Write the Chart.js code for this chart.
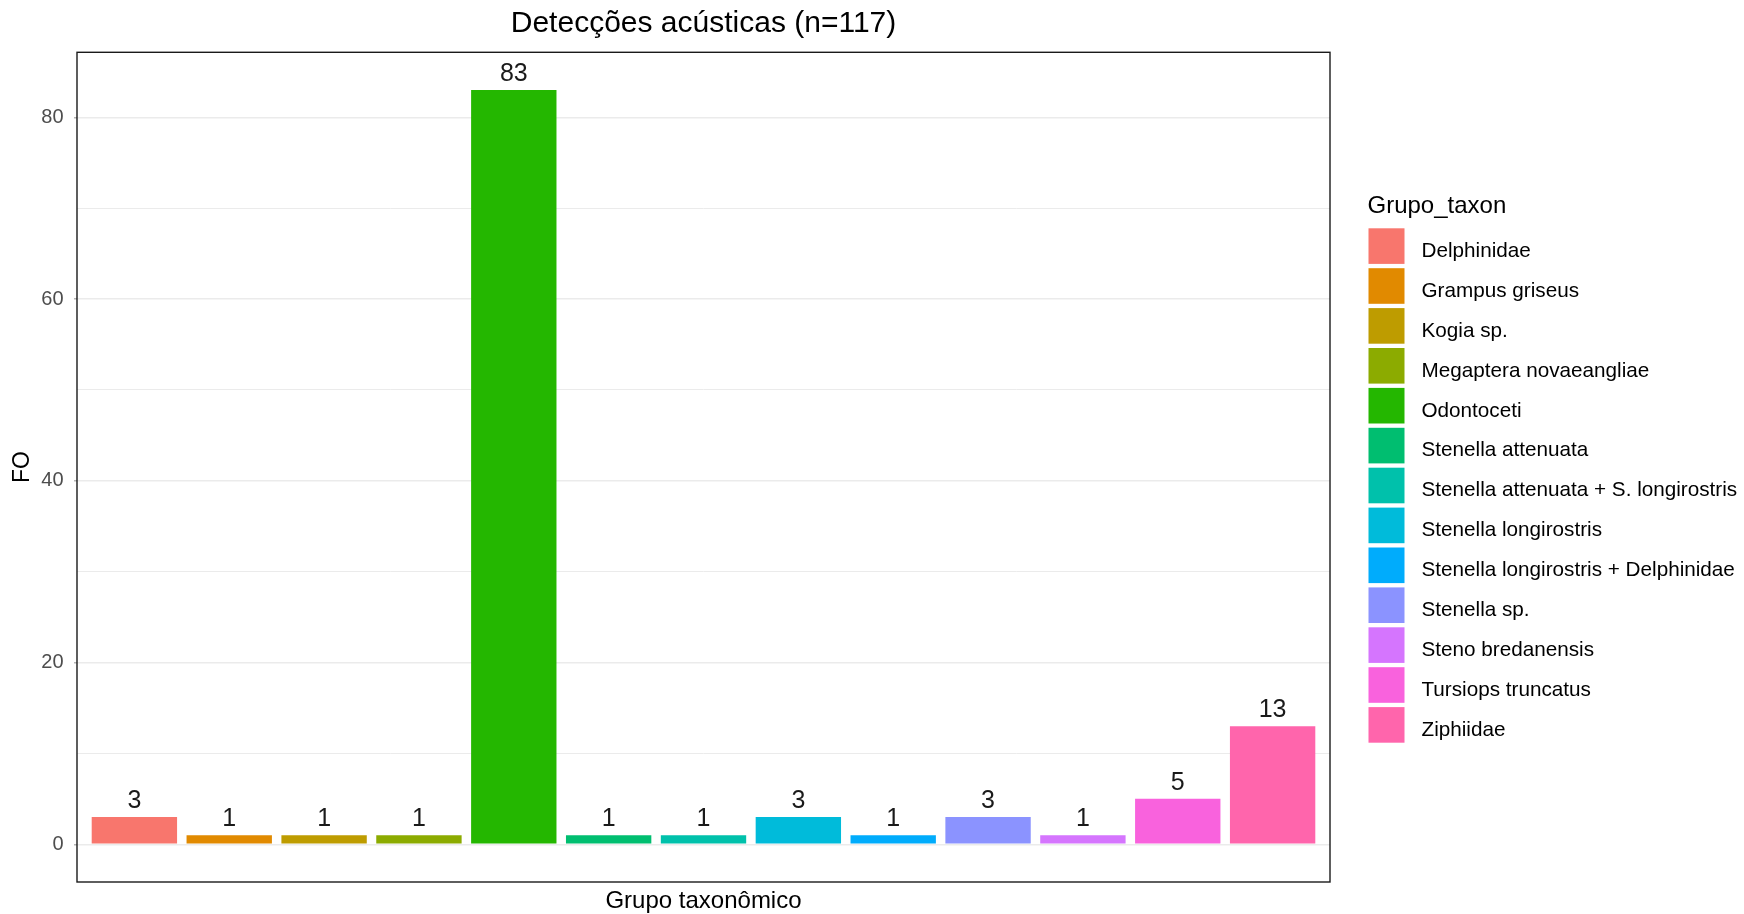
<!DOCTYPE html>
<html>
<head>
<meta charset="utf-8">
<script src="https://cdn.jsdelivr.net/npm/chart.js@4.4.1/dist/chart.umd.min.js"></script>
<style>
  html, body { margin: 0; padding: 0; background: #ffffff; }
  canvas { display: block; }
</style>
</head>
<body>
<canvas id="c" width="1744" height="914"></canvas>
<script>
const chartTitle = 'Detecções acústicas (n=117)';
const xTitle = 'Grupo taxonômico';
const yTitle = 'FO';
const legendTitle = 'Grupo_taxon';
const categories = [
  'Delphinidae', 'Grampus griseus', 'Kogia sp.', 'Megaptera novaeangliae', 'Odontoceti',
  'Stenella attenuata', 'Stenella attenuata + S. longirostris', 'Stenella longirostris',
  'Stenella longirostris + Delphinidae', 'Stenella sp.', 'Steno bredanensis',
  'Tursiops truncatus', 'Ziphiidae'
];
const counts = [3, 1, 1, 1, 83, 1, 1, 3, 1, 3, 1, 5, 13];
const colors = [
  '#F8766D', '#E18A00', '#BE9C00', '#8CAB00', '#24B700', '#00BE70', '#00C1AB',
  '#00BBDA', '#00ACFC', '#8B93FF', '#D575FE', '#F962DD', '#FF65AC'
];
const yTicks = [0, 10, 20, 30, 40, 50, 60, 70, 80];
const yTickLabels = ['0', '', '20', '', '40', '', '60', '', '80'];

const FONT = "'Liberation Sans', Arial, sans-serif";
Chart.defaults.font.family = FONT;

const panelBorder = {
  id: 'panelBorder',
  afterDatasetsDraw(chart) {
    const a = chart.chartArea, ctx = chart.ctx;
    ctx.save();
    ctx.strokeStyle = '#1a1a1a';
    ctx.lineWidth = 1.4;
    ctx.strokeRect(a.left, a.top, a.right - a.left, a.bottom - a.top);
    ctx.restore();
  }
};

const barLabels = {
  id: 'barLabels',
  afterDatasetsDraw(chart) {
    const ctx = chart.ctx;
    const meta = chart.getDatasetMeta(0);
    ctx.save();
    ctx.font = '25px ' + FONT;
    ctx.fillStyle = '#1a1a1a';
    ctx.textAlign = 'center';
    ctx.textBaseline = 'alphabetic';
    meta.data.forEach((bar, i) => {
      ctx.fillText(String(counts[i]), bar.x, bar.y - 9);
    });
    ctx.restore();
  }
};

const sideLegend = {
  id: 'sideLegend',
  afterDraw(chart) {
    const ctx = chart.ctx;
    const x0 = chart.chartArea.right + 38.5;
    const top0 = 228.3, pitch = 39.9;
    ctx.save();
    ctx.fillStyle = '#000000';
    ctx.font = '24px ' + FONT;
    ctx.textAlign = 'left';
    ctx.textBaseline = 'alphabetic';
    ctx.fillText(legendTitle, x0 - 1, 212.5);
    ctx.font = '20.7px ' + FONT;
    categories.forEach((name, i) => {
      const y = top0 + i * pitch;
      ctx.fillStyle = colors[i];
      ctx.fillRect(x0, y, 36, 35.6);
      ctx.fillStyle = '#000000';
      ctx.fillText(name, x0 + 53, y + 28.6);
    });
    ctx.restore();
  }
};

new Chart(document.getElementById('c'), {
  type: 'bar',
  data: {
    datasets: [{
      data: counts.map((v, i) => ({ x: i, y: v })),
      backgroundColor: colors,
      borderWidth: 0,
      categoryPercentage: 1.0,
      barPercentage: 0.9
    }]
  },
  options: {
    responsive: false,
    devicePixelRatio: 1,
    animation: false,
    layout: { padding: { left: 0, right: 414, top: 0, bottom: 0 } },
    plugins: {
      legend: { display: false },
      tooltip: { enabled: false },
      title: {
        display: true,
        text: chartTitle,
        fullSize: false,
        color: '#000000',
        font: { size: 30, weight: 'normal', lineHeight: 1.2 },
        padding: { top: 5.5, bottom: 10.8 }
      }
    },
    scales: {
      x: {
        type: 'linear',
        offset: false,
        min: -0.605,
        max: 12.605,
        afterBuildTicks(scale) { scale.ticks = categories.map((_, i) => ({ value: i })); },
        afterFit(scale) { scale.height = 32; },
        ticks: { display: false },
        grid: { display: false },
        border: { display: false },
        title: {
          display: true,
          text: xTitle,
          color: '#000000',
          font: { size: 24, lineHeight: 1 },
          padding: { top: 0, bottom: 1 }
        }
      },
      y: {
        type: 'linear',
        min: -4.15,
        max: 87.15,
        afterBuildTicks(scale) { scale.ticks = yTicks.map(v => ({ value: v })); },
        afterFit(scale) { scale.width = 77; },
        ticks: {
          autoSkip: false,
          color: '#4d4d4d',
          font: { size: 20 },
          padding: 10.5,
          callback: (value, index) => yTickLabels[index]
        },
        grid: {
          color: '#ebebeb',
          lineWidth: ctx => (ctx.tick && ctx.tick.value % 20 === 0) ? 1.5 : 1,
          tickLength: 3,
          tickColor: ctx => (ctx.tick && ctx.tick.value % 20 === 0) ? '#b5b5b5' : 'rgba(0,0,0,0)'
        },
        border: { display: false },
        title: {
          display: true,
          text: yTitle,
          color: '#000000',
          font: { size: 23, lineHeight: 1 },
          padding: { top: 11.5, bottom: 0 }
        }
      }
    }
  },
  plugins: [panelBorder, barLabels, sideLegend]
});
</script>
</body>
</html>
